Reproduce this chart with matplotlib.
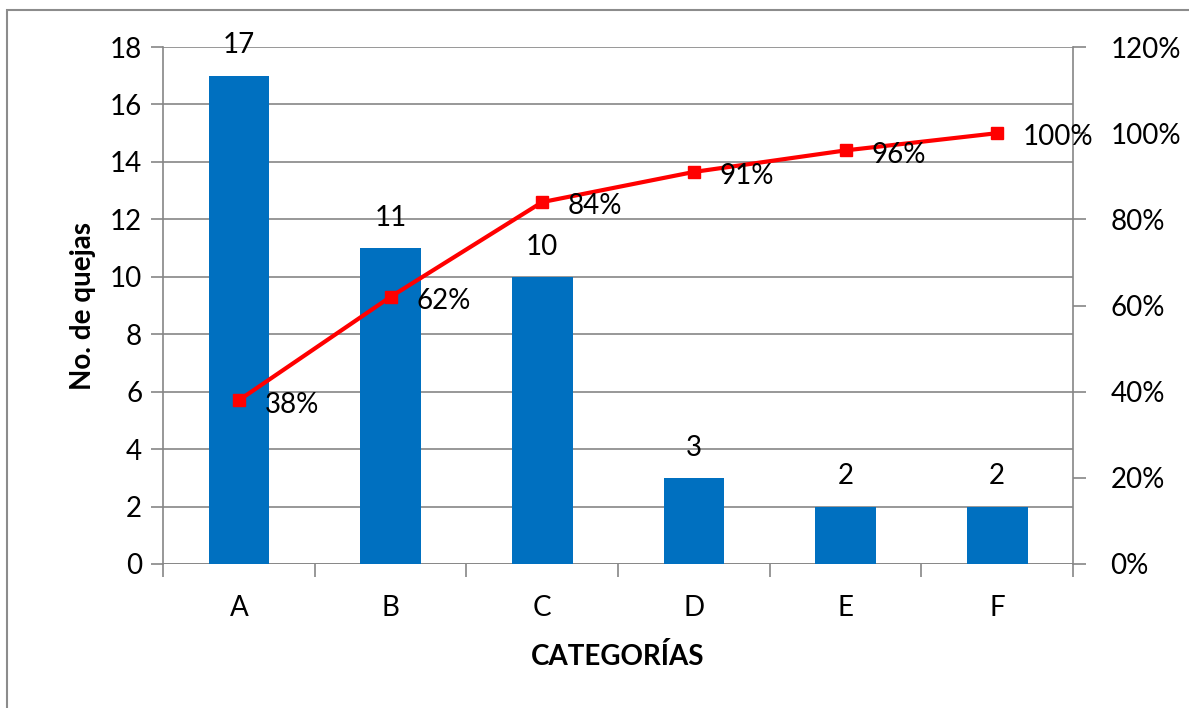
import matplotlib
matplotlib.use("Agg")
import matplotlib.pyplot as plt
from matplotlib.patches import Rectangle
from matplotlib.ticker import FixedLocator, PercentFormatter

categories = ["A", "B", "C", "D", "E", "F"]
quejas = [17, 11, 10, 3, 2, 2]
acumulado_pct = [38, 62, 84, 91, 96, 100]
left_ticks = [0, 2, 4, 6, 8, 10, 12, 14, 16, 18]
right_ticks = [0, 20, 40, 60, 80, 100, 120]

plt.rcParams["font.family"] = ["Lato", "DejaVu Sans"]
GRID = "#868686"
BAR = "#0070C0"
LINE = "#FF0000"
FS = 20

fig = plt.figure(figsize=(11.89, 7.08), dpi=100)
# chart frame
fig.patches.append(Rectangle((7 / 1189, -0.05), 1.2, 1 - 10 / 708 + 0.05,
                             transform=fig.transFigure, fill=False,
                             edgecolor="#8c8c8c", linewidth=1.5, zorder=0))

ax = fig.add_axes([163 / 1189, 1 - 564 / 708, 910 / 1189, 517 / 708])
x = list(range(len(categories)))
ax.bar(x, quejas, width=0.4, color=BAR, zorder=2)
ax.set_xlim(-0.5, len(categories) - 0.5)
ax.set_ylim(0, 18)
ax.set_yticks(left_ticks)
ax.yaxis.grid(True, color=GRID, linewidth=1.2, zorder=0)
ax.set_axisbelow(True)
for s in ["top", "right", "bottom"]:
    ax.spines[s].set_visible(False)
ax.spines["left"].set_color(GRID)
ax.spines["left"].set_linewidth(1.2)
ax.axhline(0, color=GRID, linewidth=1.2, zorder=1)

ax.set_xticks(x)
ax.set_xticklabels(categories)
ax.tick_params(axis="x", length=0, pad=22, labelsize=FS)
ax.xaxis.set_minor_locator(FixedLocator([i - 0.5 for i in range(len(categories) + 1)]))
ax.tick_params(axis="x", which="minor", length=9, color=GRID, width=1.2)
ax.tick_params(axis="y", length=9, color=GRID, width=1.2, labelsize=FS, pad=6)

for xi, v in zip(x, quejas):
    ax.text(xi, v + 0.6, str(v), ha="center", va="bottom", fontsize=FS)

ax.set_ylabel("No. de quejas", fontsize=FS, fontweight="bold", labelpad=10)
ax.set_xlabel("CATEGORÍAS", fontsize=FS, fontweight="bold", labelpad=16)

ax2 = ax.twinx()
ax2.plot(x, acumulado_pct, color=LINE, linewidth=3, marker="s", markersize=8, zorder=3)
ax2.set_ylim(0, 120)
ax2.set_yticks(right_ticks)
ax2.yaxis.set_major_formatter(PercentFormatter(decimals=0))
for s in ["top", "left", "bottom"]:
    ax2.spines[s].set_visible(False)
ax2.spines["right"].set_color(GRID)
ax2.spines["right"].set_linewidth(1.2)
ax2.tick_params(axis="y", length=9, color=GRID, width=1.2, labelsize=FS, pad=18)

for xi, p in zip(x, acumulado_pct):
    ax2.text(xi + 0.17, p - 1, f"{p}%", ha="left", va="center", fontsize=FS)

fig.savefig("out.png", dpi=100)
